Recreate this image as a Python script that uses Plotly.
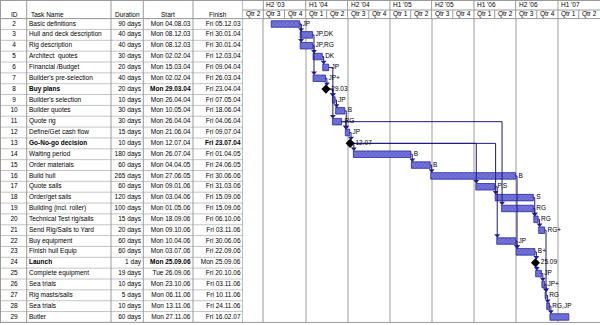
from datetime import datetime, timedelta
import plotly.graph_objects as go

# ---- project data -------------------------------------------------------
task_ids = list(range(2, 30))
task_names = [
    "Basic definitions", "Hull and deck description", "Rig description",
    "Architect  quotes", "Financial /Budget", "Builder's pre-selection", "Buy plans",
    "Builder's selection", "Builder quotes", "Quote rig", "Define/Get cash flow",
    "Go-No-go decision", "Waiting period", "Order materials", "Build hull",
    "Quote sails", "Order/get sails", "Building (incl. roller)",
    "Technical Test rig/sails", "Send Rig/Sails to Yard", "Buy equipment",
    "Finish hull Equip", "Launch", "Complete equipment", "Sea trials",
    "Rig masts/sails", "Sea trials", "Butler",
]
durations = [
    "90 days", "40 days", "40 days", "30 days", "20 days", "40 days", "20 days",
    "10 days", "30 days", "30 days", "15 days", "10 days", "180 days", "60 days",
    "265 days", "60 days", "120 days", "100 days", "15 days", "20 days", "60 days",
    "60 days", "1 day", "19 days", "10 days", "5 days", "10 days", "60 days",
]
starts = [
    "Mon 04.08.03", "Mon 08.12.03", "Mon 08.12.03", "Mon 02.02.04", "Mon 15.03.04",
    "Mon 02.02.04", "Mon 29.03.04", "Mon 26.04.04", "Mon 10.05.04", "Mon 26.04.04",
    "Mon 21.06.04", "Mon 12.07.04", "Mon 26.07.04", "Mon 04.04.05", "Mon 27.06.05",
    "Mon 09.01.06", "Mon 03.04.06", "Mon 01.05.06", "Mon 18.09.06", "Mon 09.10.06",
    "Mon 10.04.06", "Mon 03.07.06", "Mon 25.09.06", "Tue 26.09.06", "Mon 23.10.06",
    "Mon 06.11.06", "Mon 13.11.06", "Mon 27.11.06",
]
finishes = [
    "Fri 05.12.03", "Fri 30.01.04", "Fri 30.01.04", "Fri 12.03.04", "Fri 09.04.04",
    "Fri 26.03.04", "Fri 23.04.04", "Fri 07.05.04", "Fri 18.06.04", "Fri 04.06.04",
    "Fri 09.07.04", "Fri 23.07.04", "Fri 01.04.05", "Fri 24.06.05", "Fri 30.06.06",
    "Fri 31.03.06", "Fri 15.09.06", "Fri 15.09.06", "Fri 06.10.06", "Fri 03.11.06",
    "Fri 30.06.06", "Fri 22.09.06", "Mon 25.09.06", "Fri 20.10.06", "Fri 03.11.06",
    "Fri 10.11.06", "Fri 24.11.06", "Fri 16.02.07",
]
resources = [
    "JP", "JP,DK", "JP,RG", "DK", "JP", "JP+", "", "JP", "B", "RG", "JP", "",
    "B", "B", "B", "P,S", "S", "RG", "RG", "RG+", "JP", "B+", "", "JP", "JP+",
    "RG", "RG,JP", "",
]
milestone_ids = [8, 13, 24]
bold_name_ids = [8, 13, 24]
bold_start_ids = [8, 24]
bold_finish_ids = [13]

# finish-to-start dependencies (predecessor, successor)
links = [
    (2, 3), (2, 4), (3, 5), (4, 7), (5, 6), (7, 8), (6, 9), (8, 9), (8, 11),
    (9, 10), (10, 12), (11, 12), (12, 13), (13, 14), (14, 15), (15, 16),
    (11, 19), (13, 17), (13, 18), (17, 22), (18, 20), (19, 20), (16, 23),
    (22, 23), (20, 21), (23, 24), (21, 27), (24, 25), (25, 26), (26, 27),
    (27, 28), (28, 29),
]

# timescale header
half_starts = ["2003-07-01", "2004-01-01", "2004-07-01", "2005-01-01",
               "2005-07-01", "2006-01-01", "2006-07-01", "2007-01-01"]
half_labels = ["H2 '03", "H1 '04", "H2 '04", "H1 '05",
               "H2 '05", "H1 '06", "H2 '06", "H1 '07"]
quarter_starts = ["2003-04-01", "2003-07-01", "2003-10-01", "2004-01-01",
                  "2004-04-01", "2004-07-01", "2004-10-01", "2005-01-01",
                  "2005-04-01", "2005-07-01", "2005-10-01", "2006-01-01",
                  "2006-04-01", "2006-07-01", "2006-10-01", "2007-01-01",
                  "2007-04-01", "2007-07-01"]
quarter_labels = ["Qtr 2", "Qtr 3", "Qtr 4", "Qtr 1", "Qtr 2", "Qtr 3", "Qtr 4",
                  "Qtr 1", "Qtr 2", "Qtr 3", "Qtr 4", "Qtr 1", "Qtr 2", "Qtr 3",
                  "Qtr 4", "Qtr 1", "Qtr 2"]

table_headers = ["ID", "Task Name", "Duration", "Start", "Finish"]

# ---- layout constants -----------------------------------------------------
W, H = 600, 325
TABLE_W = 243                     # table width in px (table axis uses px units)
HEAD_H = 18.6                     # header height px
HEAD_MID = 10.0                   # split between the two timescale rows
BODY_BOTTOM = 322.4
col_edges = [0.5, 26.7, 111, 143.3, 193, TABLE_W]
view_start = datetime(2003, 4, 3, 14)
view_end = datetime(2007, 7, 2, 12)

FONT = "Liberation Sans, Arial, sans-serif"
FS = 6.5
BAR_FILL = "#7474dc"
BAR_HATCH = "#3434b0"
BAR_EDGE = "#2a2a98"
LINK_COL = "#1c1c78"


def to_date(label):
    return datetime.strptime(label.split()[1], "%d.%m.%y")


def py(px):
    """pixel row (from top) -> paper y"""
    return 1 - px / H


start_dt = [to_date(s) for s in starts]
end_dt = [to_date(f) + timedelta(days=1) for f in finishes]
row_of = {t: i for i, t in enumerate(task_ids)}


def iso(d):
    return d.strftime("%Y-%m-%d %H:%M")


def bold(txt, flag):
    return f"<b>{txt}</b>" if flag else txt


fig = go.Figure()

# ---- table text ------------------------------------------------------------
tfont = dict(family=FONT, size=FS, color="black")
fig.add_trace(go.Scatter(
    x=[14] * len(task_ids), y=task_ids, mode="text",
    text=[str(t) for t in task_ids], textposition="middle center",
    textfont=tfont, xaxis="x", yaxis="y", hoverinfo="skip", showlegend=False))
fig.add_trace(go.Scatter(
    x=[29] * len(task_ids), y=task_ids, mode="text",
    text=[bold(n, t in bold_name_ids) for n, t in zip(task_names, task_ids)],
    textposition="middle right",
    textfont=tfont, xaxis="x", yaxis="y", hoverinfo="skip", showlegend=False))
fig.add_trace(go.Scatter(
    x=[141] * len(task_ids), y=task_ids, mode="text",
    text=durations, textposition="middle left",
    textfont=tfont, xaxis="x", yaxis="y", hoverinfo="skip", showlegend=False))
fig.add_trace(go.Scatter(
    x=[190.5] * len(task_ids), y=task_ids, mode="text",
    text=[bold(s, t in bold_start_ids) for s, t in zip(starts, task_ids)],
    textposition="middle left",
    textfont=tfont, xaxis="x", yaxis="y", hoverinfo="skip", showlegend=False))
fig.add_trace(go.Scatter(
    x=[240.5] * len(task_ids), y=task_ids, mode="text",
    text=[bold(f, t in bold_finish_ids) for f, t in zip(finishes, task_ids)],
    textposition="middle left",
    textfont=tfont, xaxis="x", yaxis="y", hoverinfo="skip", showlegend=False))

# ---- dependency links ------------------------------------------------------
def link_from(t):
    i = row_of[t]
    return start_dt[i] if t in milestone_ids else end_dt[i]


lx, ly, ax, ay = [], [], [], []
for p, s in links:
    x0 = link_from(p)
    x1 = max(start_dt[row_of[s]] + timedelta(days=2), x0 + timedelta(days=6))
    top = s - (0.3 if s in milestone_ids else 0.3) - 0.2
    lx += [iso(x0), iso(x1), iso(x1), None]
    ly += [p, p, top, None]
    ax.append(iso(x1))
    ay.append(top)

fig.add_trace(go.Scatter(
    x=lx, y=ly, mode="lines", line=dict(color=LINK_COL, width=1),
    xaxis="x2", yaxis="y", hoverinfo="skip", showlegend=False))

# ---- task bars -------------------------------------------------------------
bar_idx = [i for i, t in enumerate(task_ids) if t not in milestone_ids]
fig.add_trace(go.Bar(
    orientation="h",
    y=[task_ids[i] for i in bar_idx],
    base=[iso(start_dt[i]) for i in bar_idx],
    x=[(end_dt[i] - start_dt[i]).total_seconds() * 1000 for i in bar_idx],
    width=0.6,
    marker=dict(color=BAR_FILL,
                line=dict(color=BAR_EDGE, width=0.8),
                pattern=dict(shape="x", size=3, solidity=0.3,
                             fgcolor=BAR_HATCH, bgcolor=BAR_FILL)),
    xaxis="x2", yaxis="y", hoverinfo="skip", showlegend=False))

fig.add_trace(go.Scatter(
    x=ax, y=ay, mode="markers",
    marker=dict(symbol="triangle-down", size=5, color="#1e1e9c",
                line=dict(width=0)),
    xaxis="x2", yaxis="y", hoverinfo="skip", showlegend=False))

# ---- resource labels -------------------------------------------------------
lab_idx = [i for i in bar_idx if resources[i]]
fig.add_trace(go.Scatter(
    x=[iso(end_dt[i]) for i in lab_idx], y=[task_ids[i] for i in lab_idx],
    mode="markers+text", text=[resources[i] for i in lab_idx],
    textposition="middle right", marker=dict(size=3, opacity=0),
    textfont=dict(family=FONT, size=FS, color="black"),
    xaxis="x2", yaxis="y", hoverinfo="skip", showlegend=False))

# ---- milestones ------------------------------------------------------------
ms_idx = [row_of[t] for t in milestone_ids]
fig.add_trace(go.Scatter(
    x=[iso(start_dt[i]) for i in ms_idx], y=[task_ids[i] for i in ms_idx],
    mode="markers+text",
    text=[start_dt[i].strftime("%d.%m") for i in ms_idx],
    textposition="middle right",
    marker=dict(symbol="diamond", size=7, color="black", line=dict(width=0)),
    textfont=dict(family=FONT, size=FS, color="black"),
    xaxis="x2", yaxis="y", hoverinfo="skip", showlegend=False))

# ---- grid / header lines ---------------------------------------------------
shapes = []
line_lt = dict(color="#c4c4c4", width=1)
line_md = dict(color="#9a9a9a", width=1)
line_dk = dict(color="#808080", width=1)

# table row separators
for b in [task_ids[0] - 0.5] + [t + 0.5 for t in task_ids]:
    shapes.append(dict(type="line", xref="x", yref="y", x0=0, x1=TABLE_W,
                       y0=b, y1=b, line=line_lt))
# table column separators (full height)
for cx in col_edges:
    shapes.append(dict(type="line", xref="x", yref="paper", x0=cx, x1=cx,
                       y0=py(BODY_BOTTOM), y1=1,
                       line=line_dk if cx == TABLE_W else line_md))
# outer horizontal borders
for yy in (0.5, HEAD_H, BODY_BOTTOM):
    shapes.append(dict(type="line", xref="paper", yref="paper", x0=0, x1=1,
                       y0=py(yy), y1=py(yy), line=line_md))
# timescale middle line
shapes.append(dict(type="line", xref="paper", yref="paper",
                   x0=TABLE_W / W, x1=1, y0=py(HEAD_MID), y1=py(HEAD_MID),
                   line=line_md))
# half-year separators in header
for d in half_starts:
    shapes.append(dict(type="line", xref="x2", yref="paper", x0=d, x1=d,
                       y0=py(HEAD_H), y1=1, line=line_md))
# quarter separators in lower header row
for d in quarter_starts[1:-1]:
    if d not in half_starts:
        shapes.append(dict(type="line", xref="x2", yref="paper", x0=d, x1=d,
                           y0=py(HEAD_H), y1=py(HEAD_MID), line=line_md))

# ---- header text -----------------------------------------------------------
annotations = []
hfont = dict(family=FONT, size=FS, color="black")
head_x = [14, 29, 127, 168, 218]
head_anchor = ["center", "left", "center", "center", "center"]
for txt, hx, anc in zip(table_headers, head_x, head_anchor):
    annotations.append(dict(text=txt, x=hx, xref="x", y=py(14), yref="paper",
                            xanchor=anc, yanchor="middle", showarrow=False,
                            font=hfont))
for d, lab in zip(half_starts, half_labels):
    annotations.append(dict(text=lab, x=d, xref="x2", xshift=1,
                            y=py(5), yref="paper", xanchor="left",
                            yanchor="middle", showarrow=False, font=hfont))
for q0, q1, lab in zip(quarter_starts[:-1], quarter_starts[1:], quarter_labels):
    a = max(datetime.fromisoformat(q0), view_start)
    b = min(datetime.fromisoformat(q1), view_end)
    mid = a + (b - a) / 2
    annotations.append(dict(text=lab, x=iso(mid), xref="x2",
                            y=py(14.5), yref="paper", xanchor="center",
                            yanchor="middle", showarrow=False, font=hfont))

fig.update_layout(
    width=W, height=H,
    margin=dict(l=0, r=0, t=0, b=0, pad=0),
    paper_bgcolor="white", plot_bgcolor="white",
    showlegend=False, barmode="overlay",
    font=dict(family=FONT, size=FS, color="black"),
    xaxis=dict(domain=[0, TABLE_W / W], range=[0, TABLE_W], visible=False,
               fixedrange=True),
    xaxis2=dict(domain=[TABLE_W / W, 1], anchor="y", type="date",
                range=[iso(view_start), iso(view_end)],
                tickvals=half_starts, showticklabels=False, ticks="",
                showgrid=True, gridcolor="#cdcdcd", gridwidth=2,
                zeroline=False, showline=False, fixedrange=True),
    yaxis=dict(domain=[py(BODY_BOTTOM), py(HEAD_H)],
               range=[task_ids[-1] + 0.5, task_ids[0] - 0.5],
               showgrid=False, zeroline=False, showticklabels=False,
               ticks="", showline=False, fixedrange=True),
    shapes=shapes, annotations=annotations,
)

fig.write_html("out.html", config={"displayModeBar": False})
